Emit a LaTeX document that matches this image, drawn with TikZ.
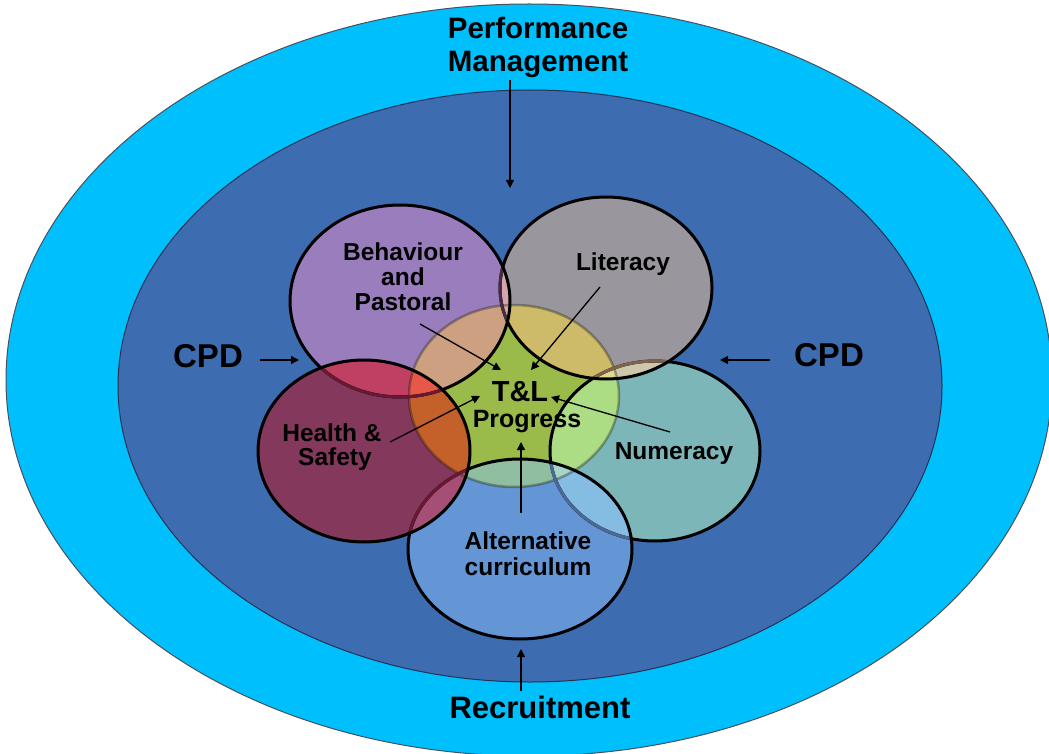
\documentclass[tikz,border=0pt]{standalone}
\usepackage{fontspec}
\setmainfont{Liberation Sans}
\usetikzlibrary{arrows.meta}

% ring colours
\definecolor{ringcyan}{RGB}{0,191,253}
\definecolor{ringedge}{RGB}{70,80,95}
\definecolor{innerblue}{RGB}{61,109,176}
\definecolor{inneredge}{RGB}{35,50,85}
% petal colours
\definecolor{colB}{RGB}{153,125,189}
\definecolor{colL}{RGB}{153,151,157}
\definecolor{colH}{RGB}{131,56,92}
\definecolor{colN}{RGB}{125,182,185}
\definecolor{colA}{RGB}{100,150,214}
\definecolor{colC}{RGB}{154,186,74}
% overlaps between petals
\definecolor{colBL}{RGB}{215,165,175}
\definecolor{colBH}{RGB}{192,64,100}
\definecolor{colHA}{RGB}{165,78,118}
\definecolor{colNA}{RGB}{133,188,225}
\definecolor{colLN}{RGB}{205,200,172}
% overlaps with the centre
\definecolor{colCB}{RGB}{205,160,130}
\definecolor{colCL}{RGB}{205,187,105}
\definecolor{colCH}{RGB}{196,96,42}
\definecolor{colCN}{RGB}{172,220,132}
\definecolor{colCA}{RGB}{143,190,160}
\definecolor{colCBL}{RGB}{220,170,140}
\definecolor{colCBH}{RGB}{232,88,72}
\definecolor{colCHA}{RGB}{200,90,80}
\definecolor{colCNA}{RGB}{165,212,200}
\definecolor{colCLN}{RGB}{222,218,150}
% outlines seen through a petal above
\definecolor{fadeNL}{RGB}{125,100,75}
\definecolor{fadeLB}{RGB}{70,45,70}
\definecolor{fadeNA}{RGB}{75,105,150}
\definecolor{fadeH}{RGB}{105,25,50}

% the six ellipses
\def\eB{(400,301) ellipse [x radius=110, y radius=96]}
\def\eL{(606,288) ellipse [x radius=106, y radius=91]}
\def\eH{(364,451) ellipse [x radius=106, y radius=91]}
\def\eN{(655,451) ellipse [x radius=105, y radius=90]}
\def\eA{(520,549) ellipse [x radius=112, y radius=90]}
\def\eC{(514,396) ellipse [x radius=105, y radius=91]}

\begin{document}
\begin{tikzpicture}[x=1pt,y=-1pt,
  petalline/.style={line width=3pt},
  lbl/.style={font=\bfseries\fontsize{24.5}{26}\selectfont, anchor=base, inner sep=0pt},
  biglbl/.style={font=\bfseries\fontsize{30}{32}\selectfont, anchor=base, inner sep=0pt},
  arr/.style={-{Triangle[length=8pt,width=8pt]}, line width=1.3pt}]
\useasboundingbox (0,0) rectangle (1049,754);
\fill[white] (0,0) rectangle (1049,754);

% outer and inner rings
\filldraw[fill=ringcyan, draw=ringedge, line width=1pt] (529,380) ellipse [x radius=523, y radius=376];
\filldraw[fill=innerblue, draw=inneredge, line width=1pt] (530,386) ellipse [x radius=412, y radius=296];

% petal fills
\fill[colB] \eB;
\fill[colL] \eL;
\fill[colH] \eH;
\fill[colN] \eN;
\fill[colA] \eA;

% petal overlaps
\begin{scope}\clip \eB; \fill[colBL] \eL; \end{scope}
\begin{scope}\clip \eB; \fill[colBH] \eH; \end{scope}
\begin{scope}\clip \eH; \fill[colHA] \eA; \end{scope}
\begin{scope}\clip \eN; \fill[colNA] \eA; \end{scope}
\begin{scope}\clip \eL; \fill[colLN] \eN; \end{scope}

% centre disc and its overlaps
\fill[colC] \eC;
\begin{scope}\clip \eC; \fill[colCB] \eB; \end{scope}
\begin{scope}\clip \eC; \fill[colCL] \eL; \end{scope}
\begin{scope}\clip \eC; \fill[colCH] \eH; \end{scope}
\begin{scope}\clip \eC; \fill[colCN] \eN; \end{scope}
\begin{scope}\clip \eC; \fill[colCA] \eA; \end{scope}
\begin{scope}\clip \eC; \clip \eB; \fill[colCBL] \eL; \end{scope}
\begin{scope}\clip \eC; \clip \eB; \fill[colCBH] \eH; \end{scope}
\begin{scope}\clip \eC; \clip \eH; \fill[colCHA] \eA; \end{scope}
\begin{scope}\clip \eC; \clip \eN; \fill[colCNA] \eA; \end{scope}
\begin{scope}\clip \eC; \clip \eL; \fill[colCLN] \eN; \end{scope}

% faint rim of the centre disc
\draw[black, draw opacity=0.3, line width=2.5pt] \eC;

% petal outlines, lower ones shaded where an upper petal covers them
\draw[petalline] \eN;
\begin{scope}\clip \eL; \draw[petalline, fadeNL] \eN; \end{scope}
\draw[petalline] \eL;
\begin{scope}\clip \eB; \draw[petalline, fadeLB] \eL; \end{scope}
\draw[petalline] \eB;
\begin{scope}\clip \eA; \draw[petalline, fadeNA] \eN; \end{scope}
\draw[petalline] \eA;
\begin{scope}\clip \eH; \draw[petalline, fadeH] \eB; \draw[petalline, fadeH] \eA; \end{scope}
\draw[petalline] \eH;

% outer labels
\node[biglbl, font=\bfseries\fontsize{29.5}{32}\selectfont] (pm1) at (538,39) {Performance};
\node[biglbl, font=\bfseries\fontsize{29.5}{32}\selectfont] (pm2) at (538,72) {Management};
\node[biglbl, font=\bfseries\fontsize{33}{35}\selectfont] (cpdl) at (208,367) {CPD};
\node[biglbl, font=\bfseries\fontsize{33}{35}\selectfont] (cpdr) at (829,366) {CPD};
\node[biglbl, font=\bfseries\fontsize{31}{33}\selectfont] (rec) at (540,718) {Recruitment};

% petal labels
\node[lbl] (beh1) at (403,260) {Behaviour};
\node[lbl] (beh2) at (403,285) {and};
\node[lbl] (beh3) at (403,310) {Pastoral};
\node[lbl] (lit) at (623,270) {Literacy};
\node[lbl] (hs1) at (332,441) {Health \&};
\node[lbl] (hs2) at (335,465) {Safety};
\node[lbl] (num) at (674,459) {Numeracy};
\node[lbl] (alt1) at (528,549) {Alternative};
\node[lbl] (alt2) at (528,575) {curriculum};
\node[lbl, font=\bfseries\fontsize{29}{30}\selectfont] (tl) at (520,401) {T\&L};
\node[lbl, font=\bfseries\fontsize{25}{26}\selectfont] (prog) at (527,427) {Progress};

% arrow end points
\coordinate (pmtip) at (510,188);
\coordinate (cpdltip) at (299,360);
\coordinate (cpdrtip) at (720,360);
\coordinate (rectip) at (521,649);
\coordinate (behtail) at (420,324);
\coordinate (behtip) at (501,370);
\coordinate (littail) at (600,287);
\coordinate (littip) at (531,370);
\coordinate (hstail) at (390,442);
\coordinate (hstip) at (480,396);
\coordinate (numtail) at (670,432);
\coordinate (numtip) at (551,397);
\coordinate (alttail) at (521,513);
\coordinate (alttip) at (521,442);

% arrows
\draw[arr] (pm2.south -| pmtip) ++(0,2) -- (pmtip);
\draw[arr] (260,360) -- (cpdltip);
\draw[arr] (770,360) -- (cpdrtip);
\draw[arr] (rectip |- rec.north) ++(0,-4) -- (rectip);
\draw[arr] (behtail) -- (behtip);
\draw[arr] (littail) -- (littip);
\draw[arr] (hstail) -- (hstip);
\draw[arr] (numtail) -- (numtip);
\draw[arr] (alttail) -- (alttip);
\end{tikzpicture}
\end{document}
